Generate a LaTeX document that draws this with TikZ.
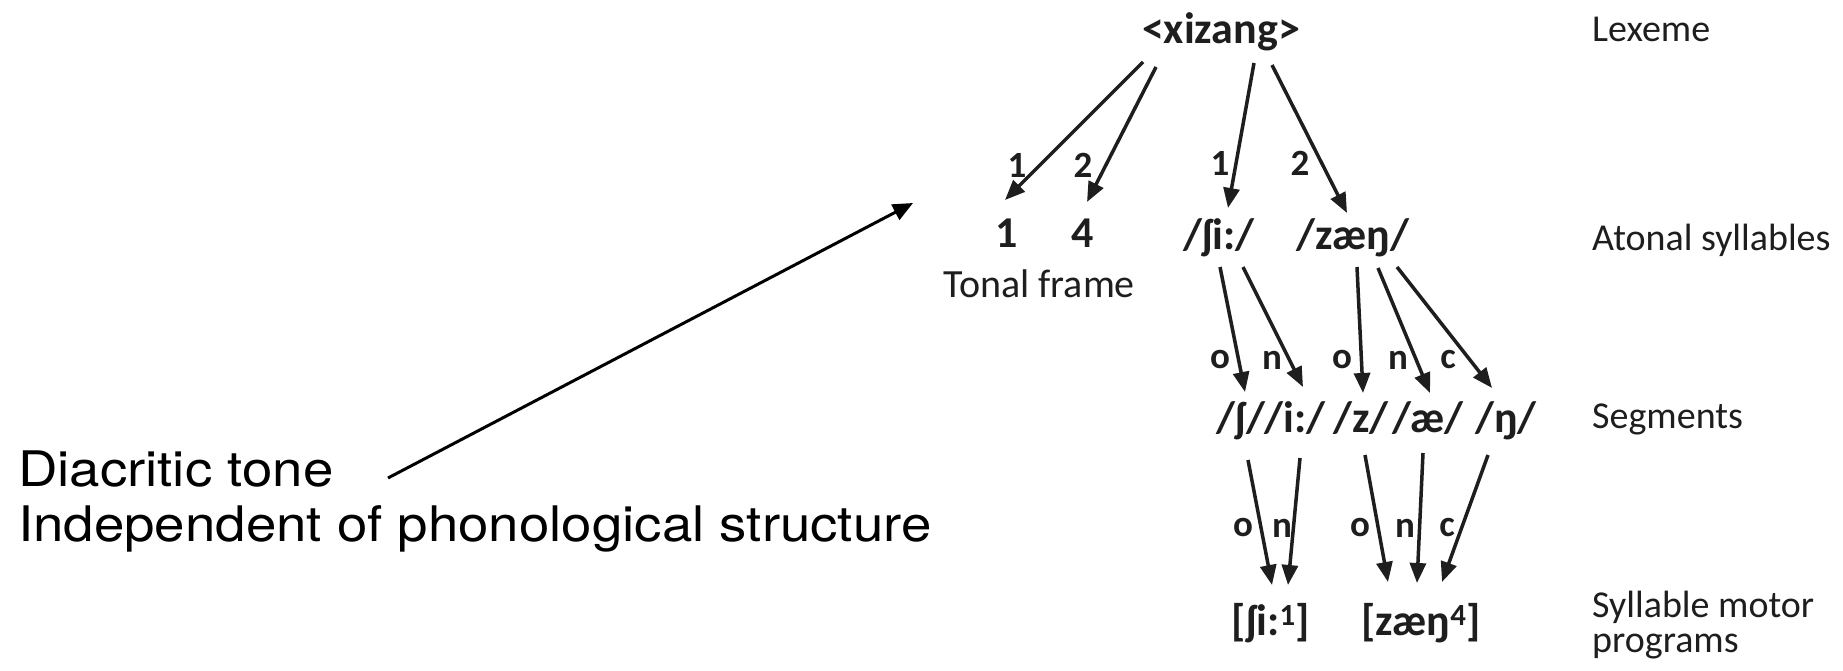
\documentclass[tikz,border=0pt]{standalone}
\usepackage{fontspec}
\newfontfamily\calfont{Carlito}
\newfontfamily\helfont[FakeStretch=1.115]{TeX Gyre Heros}
\usetikzlibrary{arrows.meta}
\definecolor{ink}{HTML}{1E1E1E}
\begin{document}
\begin{tikzpicture}[x=1pt,y=-1pt,
  treenode/.style={anchor=base,inner sep=0pt,text=ink,font=\calfont\bfseries\fontsize{44}{48}\selectfont},
  framelbl/.style={anchor=base,inner sep=0pt,text=ink,font=\calfont\fontsize{40}{44}\selectfont},
  edgelbl/.style={anchor=center,inner sep=0pt,text=ink,font=\calfont\bfseries\fontsize{37}{40}\selectfont},
  levellbl/.style={anchor=base west,inner sep=0pt,text=ink,font=\calfont\fontsize{38}{40}\selectfont},
  note/.style={anchor=base west,inner sep=0pt,text=black,font=\helfont\fontsize{49}{55}\selectfont},
  arr/.style={draw=ink,line width=3.5pt,-{Triangle[length=20pt,width=16pt]}},
  bigarr/.style={draw=black,line width=3pt,-{Triangle[length=20pt,width=17pt]}}
]
\fill[white] (0,0) rectangle (1843,671);
\useasboundingbox (0,0) rectangle (1843,671);

% tree nodes
\node[treenode] (lex) at (1221,44) {<xizang>};
\node[treenode] (t1) at (1007,247) {1};
\node[treenode] (t4) at (1083,247) {4};
\node[treenode] (syla) at (1219,249) {/ʃi:/};
\node[treenode] (sylb) at (1353,249) {/zæŋ/};
\node[framelbl] (tf) at (1039,297) {Tonal frame};

\node[treenode] (sg1) at (1241,432) {/ʃ/};
\node[treenode] (sg2) at (1295,432) {/i:/};
\node[treenode] (sg3) at (1361,432) {/z/};
\node[treenode] (sg4) at (1428,432) {/æ/};
\node[treenode] (sg5) at (1506,432) {/ŋ/};

\node[treenode] (mp1) at (1271,635) {[ʃi:\textsuperscript{1}]};
\node[treenode] (mp2) at (1421,635) {[zæŋ\textsuperscript{4}]};

% level labels
\node[levellbl] (lvl1) at (1592,42) {Lexeme};
\node[levellbl] (lvl2) at (1592,250) {Atonal syllables};
\node[levellbl] (lvl3) at (1592,428) {Segments};
\node[levellbl] (lvl4a) at (1592,617) {Syllable motor};
\node[levellbl] (lvl4b) at (1592,652) {programs};

% edges level 1
\draw[arr] ([shift={(-78,18)}]lex.base) -- ([shift={(-2,-47)}]t1.base);
\draw[arr] ([shift={(-65,23)}]lex.base) -- ([shift={(4,-45)}]t4.base);
\draw[arr] ([shift={(33,19)}]lex.base) -- ([shift={(9,-41)}]syla.base);
\draw[arr] ([shift={(51,21)}]lex.base) -- ([shift={(-6,-36)}]sylb.base);
\node[edgelbl] (e1) at (1017,165) {1};
\node[edgelbl] (e2) at (1083,165) {2};
\node[edgelbl] (e3) at (1220,163) {1};
\node[edgelbl] (e4) at (1300,163) {2};

% edges level 2
\draw[arr] ([shift={(1,18)}]syla.base) -- ([shift={(4,-40)}]sg1.base);
\draw[arr] ([shift={(24,18)}]syla.base) -- ([shift={(8,-45)}]sg2.base);
\draw[arr] ([shift={(4,18)}]sylb.base) -- ([shift={(2,-39)}]sg3.base);
\draw[arr] ([shift={(25,19)}]sylb.base) -- ([shift={(2,-39)}]sg4.base);
\draw[arr] ([shift={(44,18)}]sylb.base) -- ([shift={(-14,-44)}]sg5.base);
\node[edgelbl] (f1) at (1220,360) {o};
\node[edgelbl] (f2) at (1272,360) {n};
\node[edgelbl] (f3) at (1342,360) {o};
\node[edgelbl] (f4) at (1398,360) {n};
\node[edgelbl] (f5) at (1448,360) {c};

% edges level 3
\draw[arr] ([shift={(7,28)}]sg1.base) -- ([shift={(1,-50)}]mp1.base);
\draw[arr] ([shift={(5,26)}]sg2.base) -- ([shift={(17,-50)}]mp1.base);
\draw[arr] ([shift={(4,23)}]sg3.base) -- ([shift={(-33,-53)}]mp2.base);
\draw[arr] ([shift={(-5,21)}]sg4.base) -- ([shift={(-4,-52)}]mp2.base);
\draw[arr] ([shift={(-18,23)}]sg5.base) -- ([shift={(21,-53)}]mp2.base);
\node[edgelbl] (g1) at (1243,528) {o};
\node[edgelbl] (g2) at (1282,528) {n};
\node[edgelbl] (g3) at (1360,528) {o};
\node[edgelbl] (g4) at (1405,528) {n};
\node[edgelbl] (g5) at (1447,528) {c};

% note
\node[note] (d1) at (18,486) {Diacritic tone};
\node[note] (d2) at (18,541) {Independent of phonological structure};
\coordinate (tonetip) at (913,203);
\draw[bigarr] ([shift={(370,-8)}]d1.base west) -- (tonetip);
\end{tikzpicture}
\end{document}
